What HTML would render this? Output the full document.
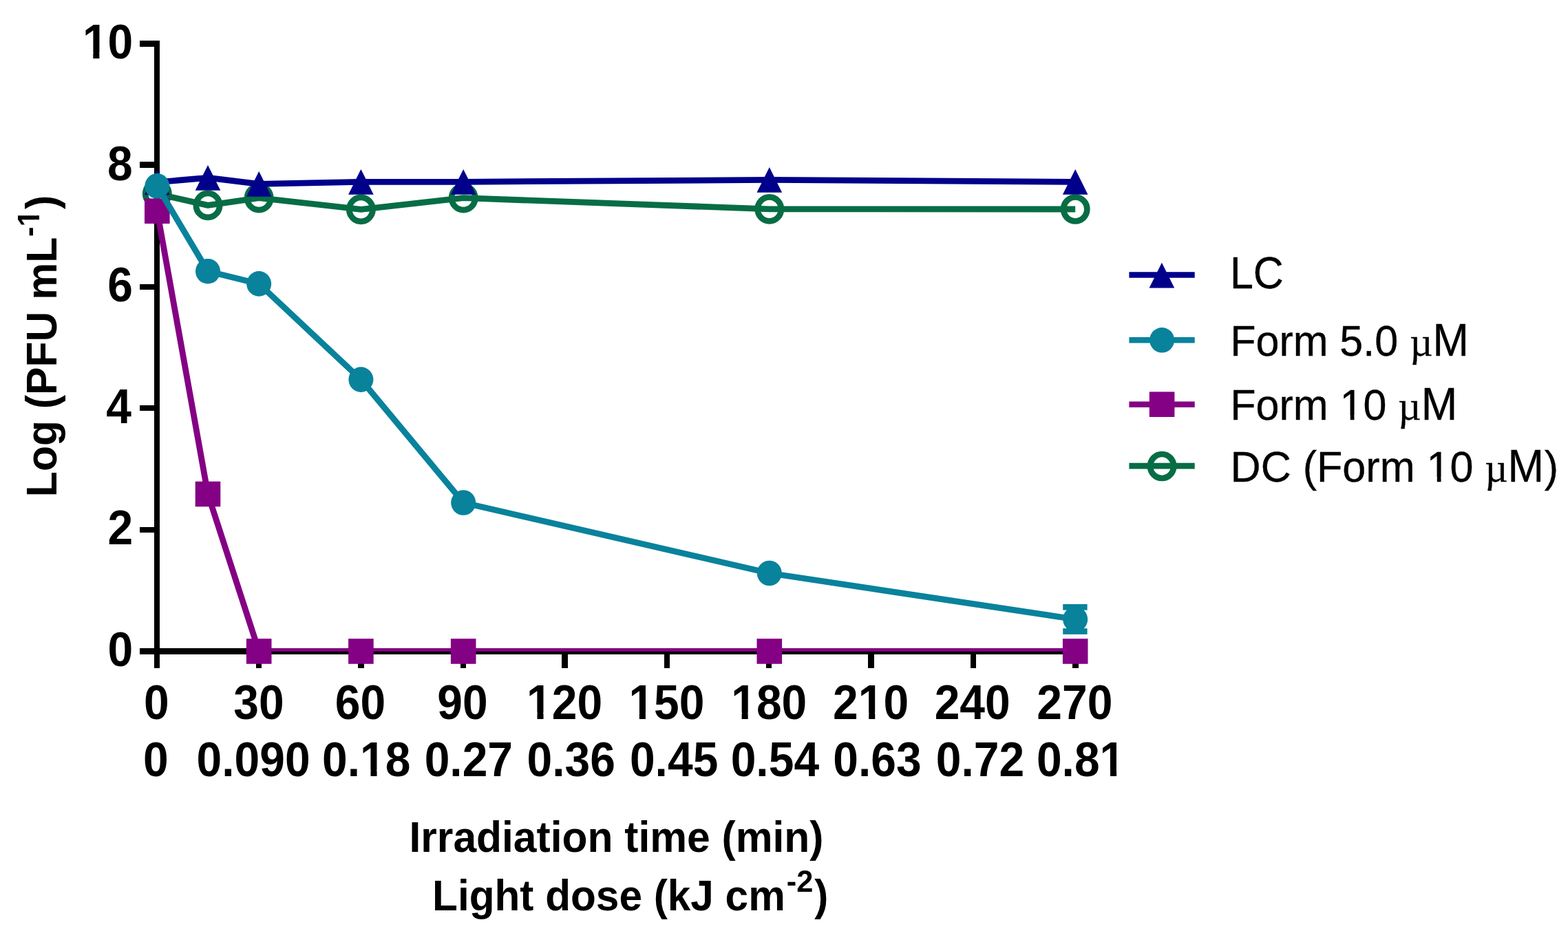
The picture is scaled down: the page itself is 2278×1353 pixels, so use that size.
<!DOCTYPE html>
<html lang="en">
<head>
<meta charset="utf-8">
<title>Photoinactivation chart</title>
<style>
html,body{margin:0;padding:0;background:#fff;}
body{width:2278px;height:1353px;overflow:hidden;}
svg{display:block;}
text{font-family:"Liberation Sans",sans-serif;fill:#000;}
.tk{font-size:66.67px;font-weight:bold;}
.ti{font-size:62.5px;font-weight:bold;}
.su{font-size:45px;}
.lg{font-size:62.5px;stroke:#000;stroke-width:0.35px;}
.mu{font-family:"Liberation Serif",serif;font-size:59px;}
.bm{font-size:64.6px;}
</style>
</head>
<body>
<svg width="2278" height="1353" viewBox="0 0 2278 1353">
<defs><clipPath id="plot"><rect x="0" y="0" width="2278" height="946.7"/></clipPath></defs>
<rect width="2278" height="1353" fill="#fff"/>

<g fill="#000">
<rect x="224" y="59" width="8" height="912"/>
<rect x="203" y="942" width="1364" height="9"/>
<rect x="203" y="766" width="29" height="8"/>
<rect x="203" y="589" width="29" height="8"/>
<rect x="203" y="413" width="29" height="8"/>
<rect x="203" y="235" width="29" height="9"/>
<rect x="203" y="59" width="29" height="9"/>
<rect x="372" y="942" width="8" height="29"/>
<rect x="520" y="942" width="9" height="29"/>
<rect x="669" y="942" width="8" height="29"/>
<rect x="816" y="942" width="9" height="29"/>
<rect x="965" y="942" width="8" height="29"/>
<rect x="1113" y="942" width="8" height="29"/>
<rect x="1261" y="942" width="9" height="29"/>
<rect x="1410" y="942" width="8" height="29"/>
<rect x="1558" y="942" width="9" height="29"/>
</g>
<g transform="translate(119.91 84.9) scale(0.9900 1.0500)"><text class="tk">10</text><g fill="#fff"><rect x="2.6" y="-8.6" width="12.96" height="11"/><rect x="24.71" y="-8.6" width="12.11" height="11"/></g></g>
<g transform="translate(155.93 261.5) scale(0.9900 1.0500)"><text class="tk">8</text></g>
<g transform="translate(156.28 438.1) scale(0.9900 1.0500)"><text class="tk">6</text></g>
<g transform="translate(154.25 614.7) scale(0.9900 1.0500)"><text class="tk">4</text></g>
<g transform="translate(156.54 791.3) scale(0.9900 1.0500)"><text class="tk">2</text></g>
<g transform="translate(156.61 967.9) scale(0.9900 1.0500)"><text class="tk">0</text></g>
<g transform="translate(208.9 1044.5) scale(0.9900 1.0500)"><text class="tk">0</text></g>
<g transform="translate(339.3 1044.5) scale(0.9900 1.0500)"><text class="tk">30</text></g>
<g transform="translate(486.79 1044.5) scale(0.9900 1.0500)"><text class="tk">60</text></g>
<g transform="translate(635.26 1044.5) scale(0.9900 1.0500)"><text class="tk">90</text></g>
<g transform="translate(765.07 1044.5) scale(0.9900 1.0500)"><text class="tk">120</text><g fill="#fff"><rect x="2.6" y="-8.6" width="12.96" height="11"/><rect x="24.71" y="-8.6" width="12.11" height="11"/></g></g>
<g transform="translate(913.42 1044.5) scale(0.9900 1.0500)"><text class="tk">150</text><g fill="#fff"><rect x="2.6" y="-8.6" width="12.96" height="11"/><rect x="24.71" y="-8.6" width="12.11" height="11"/></g></g>
<g transform="translate(1062.22 1044.5) scale(0.9900 1.0500)"><text class="tk">180</text><g fill="#fff"><rect x="2.6" y="-8.6" width="12.96" height="11"/><rect x="24.71" y="-8.6" width="12.11" height="11"/></g></g>
<g transform="translate(1210.11 1044.5) scale(0.9900 1.0500)"><text class="tk">210</text><g fill="#fff"><rect x="39.67" y="-8.6" width="12.96" height="11"/><rect x="61.78" y="-8.6" width="12.11" height="11"/></g></g>
<g transform="translate(1357.66 1044.5) scale(0.9900 1.0500)"><text class="tk">240</text></g>
<g transform="translate(1506.31 1044.5) scale(0.9900 1.0500)"><text class="tk">270</text></g>
<g transform="translate(208 1127.6) scale(0.9900 1.0500)"><text class="tk">0</text></g>
<g transform="translate(285.58 1127.6) scale(0.9900 1.0500)"><text class="tk">0.090</text></g>
<g transform="translate(468.04 1127.6) scale(0.9900 1.0500)"><text class="tk">0.18</text><g fill="#fff"><rect x="58.19" y="-8.6" width="12.96" height="11"/><rect x="80.3" y="-8.6" width="12.11" height="11"/></g></g>
<g transform="translate(616.63 1127.6) scale(0.9900 1.0500)"><text class="tk">0.27</text></g>
<g transform="translate(765.47 1127.6) scale(0.9900 1.0500)"><text class="tk">0.36</text></g>
<g transform="translate(914.9 1127.6) scale(0.9900 1.0500)"><text class="tk">0.45</text></g>
<g transform="translate(1061.65 1127.6) scale(0.9900 1.0500)"><text class="tk">0.54</text></g>
<g transform="translate(1210.22 1127.6) scale(0.9900 1.0500)"><text class="tk">0.63</text></g>
<g transform="translate(1359.8 1127.6) scale(0.9900 1.0500)"><text class="tk">0.72</text></g>
<g transform="translate(1505.89 1127.6) scale(0.9900 1.0500)"><text class="tk">0.81</text><g fill="#fff"><rect x="95.26" y="-8.6" width="12.96" height="11"/><rect x="117.37" y="-8.6" width="12.11" height="11"/></g></g>
<g transform="translate(594.45 1238) scale(0.9686 1.0000)"><text class="ti">Irradiation time (min)</text></g>
<g transform="translate(628.06 1322.6) scale(0.9652 1.0000)"><text class="ti">Light dose (kJ cm<tspan class="su" x="533.17" dy="-26.2">-2</tspan><tspan x="575.16" dy="26.2">)</tspan></text></g>
<g transform="translate(82.4 722.16) rotate(-90) scale(0.9709 1.0000)"><text class="ti">Log (PFU mL<tspan class="su" x="389.57" dy="-25.5">-1</tspan><tspan x="430.61" dy="25.5">)</tspan></text><g fill="#fff"><rect x="405.79" y="-31.89" width="9.27" height="8.79"/><rect x="421.24" y="-31.89" width="8.7" height="8.79"/></g></g>
<g transform="translate(1786.9 419.3) scale(0.9753 1.0450)"><text class="lg">LC</text></g>
<g transform="translate(1787.3 516.6) scale(0.9749 1.0200)"><text class="lg">Form 5.0 <tspan class="mu" x="267.57">µ</tspan><tspan class="bm" x="301.71">M</tspan></text></g>
<g transform="translate(1787.3 610.2) scale(0.9759 1.0200)"><text class="lg">Form 10 <tspan class="mu" x="249.87">µ</tspan><tspan class="bm" x="284.39">M</tspan></text><g fill="#fff"><rect x="166.34" y="-6.47" width="12.38" height="8.87"/><rect x="184.6" y="-6.47" width="11.89" height="8.87"/></g></g>
<g transform="translate(1787.59 700) scale(0.9772 1.0200)"><text class="lg">DC (Form 10 <tspan class="mu" x="378.29">µ</tspan><tspan class="bm" x="412.25">M</tspan><tspan x="466.71">)</tspan></text><g fill="#fff"><rect x="294.79" y="-6.47" width="12.38" height="8.87"/><rect x="313.05" y="-6.47" width="11.89" height="8.87"/></g></g>
<polyline clip-path="url(#plot)" points="228.3,281.6 302,298.4 376.2,287.7 524.4,304.3 673.2,287.7 1117.8,303.9 1562.2,304" fill="none" stroke="#076d45" stroke-width="8.8" stroke-linejoin="round"/>
<ellipse cx="228.3" cy="281.6" rx="17.1" ry="17.5" fill="none" stroke="#076d45" stroke-width="8.7"/>
<ellipse cx="302" cy="298.4" rx="17.1" ry="17.5" fill="none" stroke="#076d45" stroke-width="8.7"/>
<ellipse cx="376.2" cy="287.7" rx="17.1" ry="17.5" fill="none" stroke="#076d45" stroke-width="8.7"/>
<ellipse cx="524.4" cy="304.3" rx="17.1" ry="17.5" fill="none" stroke="#076d45" stroke-width="8.7"/>
<ellipse cx="673.2" cy="287.7" rx="17.1" ry="17.5" fill="none" stroke="#076d45" stroke-width="8.7"/>
<ellipse cx="1117.8" cy="303.9" rx="17.1" ry="17.5" fill="none" stroke="#076d45" stroke-width="8.7"/>
<ellipse cx="1562.2" cy="304" rx="17.1" ry="17.5" fill="none" stroke="#076d45" stroke-width="8.7"/>
<polyline clip-path="url(#plot)" points="228.3,264.8 302,258.3 376.2,267.3 524.4,264.3 673.2,264.3 1117.8,261.4 1562.2,264.3" fill="none" stroke="#00008b" stroke-width="8.8" stroke-linejoin="round"/>
<polygon points="228.3,246.4 246.6,283.2 210,283.2" fill="#00008b"/>
<polygon points="302,239.9 320.3,276.7 283.7,276.7" fill="#00008b"/>
<polygon points="376.2,248.9 394.5,285.7 357.9,285.7" fill="#00008b"/>
<polygon points="524.4,245.9 542.7,282.7 506.1,282.7" fill="#00008b"/>
<polygon points="673.2,245.9 691.5,282.7 654.9,282.7" fill="#00008b"/>
<polygon points="1117.8,243 1136.1,279.8 1099.5,279.8" fill="#00008b"/>
<polygon points="1562.2,245.9 1580.5,282.7 1543.9,282.7" fill="#00008b"/>
<polyline clip-path="url(#plot)" points="228.3,306.7 302,718 376.2,946.5 524.4,946.5 673.2,946.5 1117.8,946.5 1562.2,946.5" fill="none" stroke="#840084" stroke-width="8.8" stroke-linejoin="round"/>
<rect x="210" y="288.4" width="36.6" height="36.6" fill="#840084"/>
<rect x="283.7" y="699.7" width="36.6" height="36.6" fill="#840084"/>
<rect x="357.9" y="928.2" width="36.6" height="36.6" fill="#840084"/>
<rect x="506.1" y="928.2" width="36.6" height="36.6" fill="#840084"/>
<rect x="654.9" y="928.2" width="36.6" height="36.6" fill="#840084"/>
<rect x="1099.5" y="928.2" width="36.6" height="36.6" fill="#840084"/>
<rect x="1543.9" y="928.2" width="36.6" height="36.6" fill="#840084"/>
<polyline clip-path="url(#plot)" points="228.3,270.4 302,394.2 376.2,412.4 524.4,551.6 673.2,730.5 1117.8,833 1562.2,900" fill="none" stroke="#09829c" stroke-width="8.8" stroke-linejoin="round"/>
<g fill="#09829c"><rect x="1544.2" y="878" width="35.4" height="8.7"/><rect x="1544.2" y="913.2" width="35.4" height="8.7"/><rect x="1558" y="880" width="8.4" height="40"/></g>
<ellipse cx="228.3" cy="270.4" rx="18.0" ry="18.3" fill="#09829c"/>
<ellipse cx="302" cy="394.2" rx="18.0" ry="18.3" fill="#09829c"/>
<ellipse cx="376.2" cy="412.4" rx="18.0" ry="18.3" fill="#09829c"/>
<ellipse cx="524.4" cy="551.6" rx="18.0" ry="18.3" fill="#09829c"/>
<ellipse cx="673.2" cy="730.5" rx="18.0" ry="18.3" fill="#09829c"/>
<ellipse cx="1117.8" cy="833" rx="18.0" ry="18.3" fill="#09829c"/>
<ellipse cx="1562.2" cy="900" rx="18.0" ry="18.3" fill="#09829c"/>
<line x1="1640.4" y1="399.5" x2="1735.7" y2="399.5" stroke="#00008b" stroke-width="8.6"/>
<polygon points="1687.9,381.7 1706.2,418.5 1669.6,418.5" fill="#00008b"/>
<line x1="1640.4" y1="494.3" x2="1735.7" y2="494.3" stroke="#09829c" stroke-width="8.6"/>
<ellipse cx="1688.1" cy="494.3" rx="18.0" ry="18.3" fill="#09829c"/>
<line x1="1640.4" y1="587.7" x2="1735.7" y2="587.7" stroke="#840084" stroke-width="8.6"/>
<rect x="1669.8" y="569.4" width="36.6" height="36.6" fill="#840084"/>
<line x1="1640.4" y1="677.1" x2="1735.7" y2="677.1" stroke="#076d45" stroke-width="8.6"/>
<ellipse cx="1688.1" cy="677.5" rx="17.1" ry="17.5" fill="none" stroke="#076d45" stroke-width="8.7"/>
</svg>
</body>
</html>
